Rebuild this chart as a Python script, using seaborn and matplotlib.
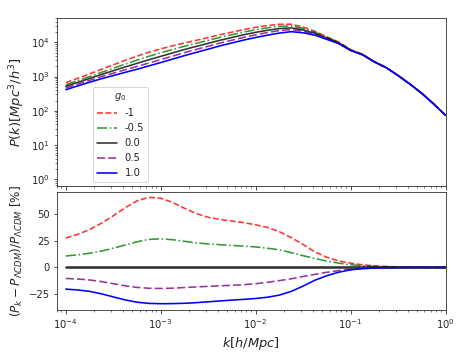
import numpy as np
import pandas as pd
import matplotlib
matplotlib.use("Agg")
import matplotlib.pyplot as plt
import seaborn as sns

# log10 of wavenumber k [h/Mpc]
log_k = [-4.0, -3.875, -3.75, -3.625, -3.5, -3.375, -3.25, -3.125, -3.0, -2.875,
         -2.75, -2.625, -2.5, -2.375, -2.25, -2.125, -2.0, -1.875, -1.75, -1.625,
         -1.5, -1.375, -1.25, -1.125, -1.0, -0.875, -0.75, -0.625, -0.5, -0.375,
         -0.25, -0.125, 0.0]

# log10 P(k) for g0 = 0.0 (LambdaCDM)
log_p_lcdm = [2.715, 2.83, 2.945, 3.06, 3.17, 3.28, 3.385, 3.49, 3.59, 3.69,
              3.79, 3.88, 3.97, 4.06, 4.14, 4.22, 4.29, 4.35, 4.40, 4.42,
              4.36, 4.26, 4.12, 3.98, 3.77, 3.64, 3.43, 3.26, 3.03, 2.78,
              2.51, 2.20, 1.87]

# percent deviations from LambdaCDM
dev_m1 = [27.6, 31, 35.5, 41.5, 48.5, 56, 62.5, 65.8, 65, 61,
          55.5, 50.5, 47, 45, 43.5, 42, 40, 37.5, 33.5, 28,
          21.5, 14.5, 9.5, 6, 4, 2.4, 1.5, 0.9, 0.5, 0.3, 0.15, 0.05, 0]
dev_m05 = [10.7, 11.8, 13.3, 15.3, 18, 21, 24, 26.3, 26.8, 26,
           24.5, 23, 22, 21.3, 20.6, 20, 19.2, 18, 16.5, 13.8,
           11, 8.3, 5.9, 4, 2.5, 1.5, 0.9, 0.5, 0.3, 0.15, 0.08, 0.03, 0]
dev_0 = [0.0] * 33
dev_p05 = [-10.4, -10.9, -11.8, -13.3, -15.3, -17.3, -18.8, -19.6, -19.8, -19.5,
           -18.9, -18.3, -17.8, -17.3, -16.8, -16.2, -15.3, -14, -12.4, -10.7,
           -8.5, -6.5, -4.6, -3, -1.9, -1.1, -0.6, -0.3, -0.15, -0.08, -0.04, -0.02, 0]
dev_p1 = [-20.4, -21.2, -22.5, -24.8, -27.7, -30.5, -32.7, -33.8, -34.1, -34,
          -33.7, -33.1, -32.3, -31.5, -30.7, -30, -29.2, -28, -26, -22.5,
          -17.5, -12, -7.8, -4.5, -2.3, -1.2, -0.6, -0.3, -0.15, -0.08, -0.04, -0.02, 0]

labels = ["-1", "-0.5", "0.0", "0.5", "1.0"]
devs = [dev_m1, dev_m05, dev_0, dev_p05, dev_p1]
colors = ["red", "green", "black", "purple", "blue"]
styles = ["--", "-.", "-", (0, (5, 2)), "-"]

k = 10.0 ** np.array(log_k)
p_lcdm = 10.0 ** np.array(log_p_lcdm)

rows = []
for lab, d in zip(labels, devs):
    d = np.array(d, dtype=float)
    for kk, pp, dd in zip(k, p_lcdm * (1 + d / 100.0), d):
        rows.append({"k": kk, "P": pp, "dev": dd, "g0": lab})
df = pd.DataFrame(rows)

sns.set_style("ticks")
plt.rcParams["font.family"] = ["DejaVu Sans"]

fig = plt.figure(figsize=(6.5, 5), dpi=72)
ax1 = fig.add_axes([0.121, 0.4833, 0.831, 0.4658])
ax2 = fig.add_axes([0.121, 0.1389, 0.831, 0.3269], sharex=ax1)

for lab, c, ls in zip(labels, colors, styles):
    sub = df[df["g0"] == lab]
    a = 1.0 if lab == "1.0" else 0.8
    sns.lineplot(data=sub, x="k", y="P", ax=ax1, color=c, linestyle=ls,
                 linewidth=1.6, alpha=a, label=lab, legend=False)
    lw2 = 2.6 if lab == "0.0" else 1.6
    sns.lineplot(data=sub, x="k", y="dev", ax=ax2, color=c, linestyle=ls,
                 linewidth=lw2, alpha=a, legend=False)

ax1.set_xscale("log")
ax1.set_yscale("log")
ax1.set_xlim(8e-5, 1)
ax1.set_ylim(0.64, 5e4)
ax2.set_ylim(-40, 70.5)
ax2.set_yticks([-25, 0, 25, 50])

ax1.set_xlabel("")
ax1.tick_params(labelbottom=False)
ax1.set_ylabel(r"$P(k) [Mpc^3/h^3]$", fontsize=13)
ax2.set_ylabel(r"$(P_k - P_{\Lambda CDM})/P_{\Lambda CDM}\ [\%]$", fontsize=12)
ax2.set_xlabel(r"$k[h/Mpc]$", fontsize=13)

for ax in (ax1, ax2):
    for s in ax.spines.values():
        s.set_visible(True)
        s.set_color("#262626")

handles, lbls = ax1.get_legend_handles_labels()
ax1.legend(handles, lbls, title=r"$g_0$", loc="upper left",
           bbox_to_anchor=(0.093, 0.59), borderaxespad=0, fontsize=10)

fig.savefig("out.png", dpi=72)
